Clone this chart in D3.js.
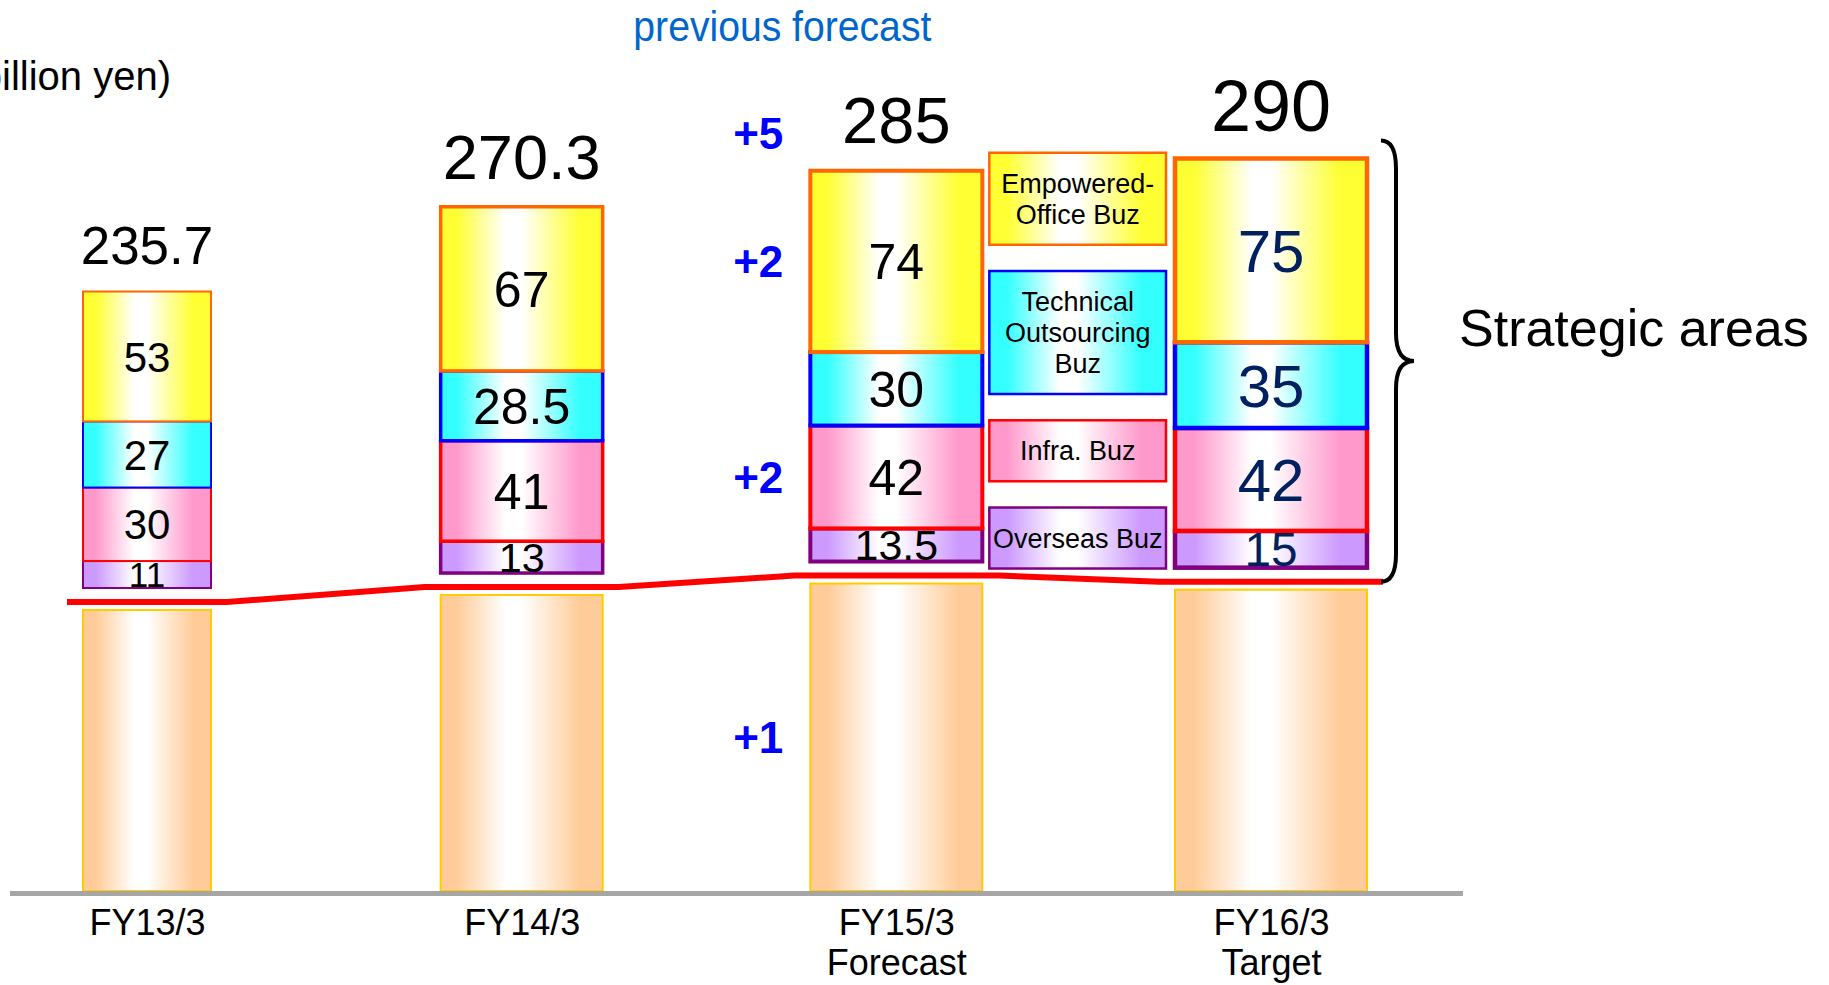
<!DOCTYPE html>
<html>
<head>
<meta charset="utf-8">
<script src="https://cdn.jsdelivr.net/npm/d3@7"></script>
<style>
  html, body { margin: 0; padding: 0; background: #ffffff; }
  svg { display: block; font-family: "Liberation Sans", Arial, Helvetica, sans-serif; }
</style>
</head>
<body>
<svg id="chart" width="1829" height="985"></svg>
<script>
// Net sales by fiscal year, billion yen
const years = ["FY13/3", "FY14/3", "FY15/3", "FY16/3"];
const yearNotes = ["", "", "Forecast", "Target"];
const totals = [235.7, 270.3, 285, 290];

// Strategic areas, stacked from the bottom up
const overseas = [11, 13, 13.5, 15];
const infra = [30, 41, 42, 42];
const technical = [27, 28.5, 30, 35];
const empowered = [53, 67, 74, 75];
const areaNames = ["Overseas Buz", "Infra. Buz", "Technical Outsourcing Buz", "Empowered-Office Buz"];
const areaLegendLines = [["Overseas Buz"], ["Infra. Buz"], ["Technical", "Outsourcing", "Buz"], ["Empowered-", "Office Buz"]];

// Change against the previous FY15/3 forecast
const revisionYear = "FY15/3";
const revisionParts = ["total", "Empowered-Office Buz", "Infra. Buz", "other"];
const revisionDeltas = [5, 2, 2, 1];

// ---- styling -------------------------------------------------------------
const areaFill = {
  "Overseas Buz": "#CC99FF",
  "Infra. Buz": "#FF99CC",
  "Technical Outsourcing Buz": "#33FFFF",
  "Empowered-Office Buz": "#FFFF33"
};
const areaStroke = {
  "Overseas Buz": "#800080",
  "Infra. Buz": "#FF0000",
  "Technical Outsourcing Buz": "#0000FF",
  "Empowered-Office Buz": "#FF6600"
};
const columnStyle = [
  { width: 128, stroke: 2,   segFont: 42, totalFont: 53, ink: "#000000" },
  { width: 162, stroke: 3.5, segFont: 50, totalFont: 63, ink: "#000000" },
  { width: 172, stroke: 4,   segFont: 50, totalFont: 65, ink: "#000000" },
  { width: 192, stroke: 4.5, segFont: 60, totalFont: 72, ink: "#002060" }
];
const FONT = '"Liberation Sans", Arial, Helvetica, sans-serif';

const svg = d3.select("#chart");
const defs = svg.append("defs");

function addGradient(id, c) {
  const lg = defs.append("linearGradient").attr("id", id)
    .attr("x1", "0%").attr("x2", "100%").attr("y1", "0%").attr("y2", "0%");
  [[0, c], [0.1, c], [0.4, "#ffffff"], [0.5, "#ffffff"], [0.86, c], [1, c]]
    .forEach(([o, col]) => lg.append("stop").attr("offset", o).attr("stop-color", col));
}
addGradient("g-base", "#FFCC99");
areaNames.forEach((k, j) => addGradient("g-area-" + j, areaFill[k]));

// ---- data table ----------------------------------------------------------
const series = [overseas, infra, technical, empowered];
const table = years.map((yr, i) => {
  const row = { year: yr };
  areaNames.forEach((k, j) => { row[k] = series[j][i]; });
  return row;
});
const stacked = d3.stack().keys(areaNames)(table);
const rows = years.map((yr, i) => {
  const strategic = d3.sum(series, s => s[i]);
  return { year: yr, i, note: yearNotes[i], total: totals[i], other: totals[i] - strategic, style: columnStyle[i] };
});

// ---- scales --------------------------------------------------------------
const baseY = 891;
const y = d3.scaleLinear().domain([0, 300]).range([baseY, baseY - 300 * 2.45]);
const x = d3.scalePoint().domain(years).range([147, 1271]);
const gap = 22;          // space between the other-business bar and the strategic stack
const sepOffset = 8;     // separator line sits just above the other-business bar

const left = d => x(d.year) - d.style.width / 2;
const right = d => x(d.year) + d.style.width / 2;
const stackTop = d => y(d.total) - gap;

// ---- other-business bars -------------------------------------------------
svg.append("g").selectAll("rect").data(rows).join("rect")
  .attr("x", left)
  .attr("y", d => y(d.other))
  .attr("width", d => d.style.width)
  .attr("height", d => y(0) - y(d.other))
  .attr("fill", "url(#g-base)")
  .attr("stroke", "#FFCC00")
  .attr("stroke-width", 2);

// ---- strategic stacks ----------------------------------------------------
const segs = [];
stacked.forEach((layer, j) => {
  layer.forEach((v, i) => {
    const r = rows[i];
    segs.push({ key: layer.key, j, r, value: v[1] - v[0],
      y0: y(r.other + v[0]) - gap, y1: y(r.other + v[1]) - gap });
  });
});

svg.append("g").selectAll("rect").data(segs).join("rect")
  .attr("x", d => left(d.r))
  .attr("y", d => d.y1)
  .attr("width", d => d.r.style.width)
  .attr("height", d => d.y0 - d.y1)
  .attr("fill", d => "url(#g-area-" + d.j + ")")
  .attr("stroke", d => areaStroke[d.key])
  .attr("stroke-width", d => d.r.style.stroke);

const segFont = d => Math.min(d.r.style.segFont, (d.y0 - d.y1) * 1.3);
svg.append("g").selectAll("text").data(segs).join("text")
  .attr("x", d => x(d.r.year))
  .attr("y", d => (d.y0 + d.y1) / 2 + 0.36 * segFont(d))
  .attr("text-anchor", "middle")
  .attr("font-size", segFont)
  .attr("fill", d => d.r.style.ink)
  .text(d => d.value);

// ---- totals --------------------------------------------------------------
const totalBaseline = d => stackTop(d) - 28;
svg.append("g").selectAll("text").data(rows).join("text")
  .attr("x", d => x(d.year))
  .attr("y", totalBaseline)
  .attr("text-anchor", "middle")
  .attr("font-size", d => d.style.totalFont)
  .attr("fill", "#000")
  .text(d => d.total);

// ---- separator line between other business and strategic areas ----------
const sepPoints = rows.flatMap(d => [[left(d) - 16, y(d.other) - sepOffset], [right(d) + 16, y(d.other) - sepOffset]]);
svg.append("path")
  .attr("d", d3.line()(sepPoints))
  .attr("fill", "none")
  .attr("stroke", "#FF0000")
  .attr("stroke-width", 6)
  .attr("stroke-linejoin", "miter");

// ---- category axis -------------------------------------------------------
svg.append("line")
  .attr("x1", 10).attr("x2", right(rows[3]) + 96)
  .attr("y1", baseY + 2.5).attr("y2", baseY + 2.5)
  .attr("stroke", "#A6A6A6").attr("stroke-width", 5);

const ax = svg.append("g").attr("transform", `translate(0,${baseY})`)
  .call(d3.axisBottom(x).tickSize(0).tickPadding(0));
ax.select(".domain").remove();
ax.attr("font-family", FONT).attr("font-size", 36);
ax.selectAll(".tick text")
  .attr("fill", "#000").attr("y", null).attr("dy", null).text(null)
  .each(function (d) {
    const t = d3.select(this);
    t.append("tspan").attr("x", 0).attr("y", 44).text(d);
    const note = yearNotes[years.indexOf(d)];
    if (note) t.append("tspan").attr("x", 0).attr("y", 84).text(note);
  });

// ---- revisions against previous forecast ---------------------------------
const fr = rows[years.indexOf(revisionYear)];
const deltaX = left(fr) - 27;
const segFor = key => segs.find(s => s.r === fr && s.key === key);
const deltaY = part => {
  if (part === "total") return totalBaseline(fr) + 6;
  if (part === "other") return (y(fr.other) + y(0)) / 2 + 0.36 * 44;
  const s = segFor(part);
  return (s.y0 + s.y1) / 2 + 0.36 * 44;
};
svg.append("g").selectAll("text").data(revisionParts).join("text")
  .attr("x", deltaX)
  .attr("y", deltaY)
  .attr("text-anchor", "end")
  .attr("font-size", 44)
  .attr("font-weight", "bold")
  .attr("fill", "#0000FF")
  .text((d, i) => "+" + revisionDeltas[i]);

svg.append("text")
  .attr("x", deltaX - 150).attr("y", 41)
  .attr("font-size", 43)
  .attr("fill", "#0066CC")
  .attr("textLength", 298)
  .attr("lengthAdjust", "spacingAndGlyphs")
  .text("previous forecast");

// ---- legend between the forecast and target columns ---------------------
const lr = rows[3];
const lgX0 = right(fr) + 7, lgX1 = left(lr) - 9;
const lgTop = stackTop(fr) - 18, lgBottom = y(fr.other) - sepOffset - 7;
const lineH = 31, lgFont = 27;
const legendItems = areaNames.map((k, j) => ({ key: k, j, lines: areaLegendLines[j], h: areaLegendLines[j].length * lineH + 30 })).reverse();
const lgGap = (lgBottom - lgTop - d3.sum(legendItems, d => d.h)) / (legendItems.length - 1);
let cursor = lgTop;
legendItems.forEach(d => { d.top = cursor; cursor += d.h + lgGap; });

const lg = svg.append("g").selectAll("g").data(legendItems).join("g");
lg.append("rect")
  .attr("x", lgX0).attr("y", d => d.top)
  .attr("width", lgX1 - lgX0).attr("height", d => d.h)
  .attr("fill", d => "url(#g-area-" + d.j + ")")
  .attr("stroke", d => areaStroke[d.key])
  .attr("stroke-width", 2.5);
lg.each(function (d) {
  const g = d3.select(this);
  const cy = d.top + d.h / 2;
  d.lines.forEach((ln, k) => {
    const t = g.append("text")
      .attr("x", (lgX0 + lgX1) / 2)
      .attr("y", cy + (k - (d.lines.length - 1) / 2) * lineH + 0.36 * lgFont)
      .attr("text-anchor", "middle")
      .attr("font-size", lgFont)
      .attr("fill", "#000")
      .text(ln);
    const maxW = lgX1 - lgX0 - 6;
    if (t.node().getComputedTextLength() > maxW) {
      t.attr("textLength", maxW).attr("lengthAdjust", "spacingAndGlyphs");
    }
  });
});

// ---- brace grouping the strategic areas ----------------------------------
const bx0 = right(lr) + 14, bxm = bx0 + 15, bxt = bx0 + 33;
const by0 = stackTop(lr) - 18, by1 = y(lr.other) - sepOffset;
const bym = (by0 + by1) / 2, br = 28;
const bracePath = d3.path();
bracePath.moveTo(bx0, by0);
bracePath.quadraticCurveTo(bxm, by0, bxm, by0 + br);
bracePath.lineTo(bxm, bym - br);
bracePath.quadraticCurveTo(bxm, bym, bxt, bym);
bracePath.quadraticCurveTo(bxm, bym, bxm, bym + br);
bracePath.lineTo(bxm, by1 - br);
bracePath.quadraticCurveTo(bxm, by1, bx0, by1);
svg.append("path").attr("d", bracePath.toString())
  .attr("fill", "none").attr("stroke", "#000").attr("stroke-width", 4);

svg.append("text")
  .attr("x", bxt + 45).attr("y", bym - 15)
  .attr("font-size", 52).attr("fill", "#000")
  .text("Strategic areas");

// ---- unit ----------------------------------------------------------------
svg.append("text")
  .attr("x", 171).attr("y", 90)
  .attr("text-anchor", "end")
  .attr("font-size", 40).attr("fill", "#000")
  .text("(billion yen)");
</script>
</body>
</html>
